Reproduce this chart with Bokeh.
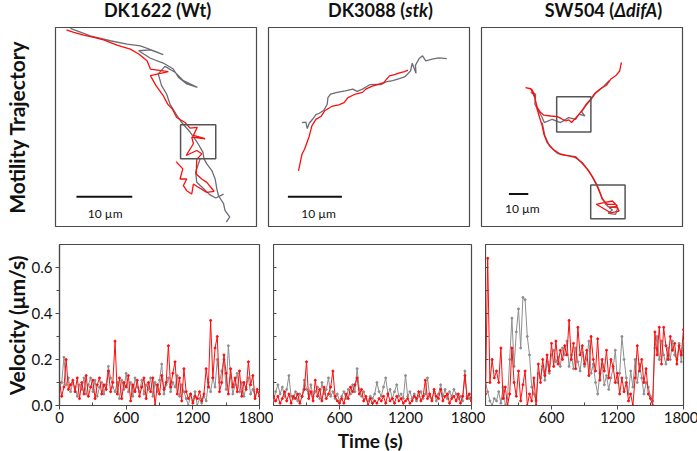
from bokeh.plotting import figure
from bokeh.layouts import column, row
from bokeh.models import Range1d, FixedTicker, Div, Spacer, PrintfTickFormatter
from bokeh.embed import file_html
from bokeh.resources import INLINE
from bokeh.core.properties import value

# ---------------- data ----------------
TITLES = ["DK1622 (Wt)", "DK3088 (<i>stk</i>)", "SW504 (<i>&Delta;difA</i>)"]
Y_TRAJ_LABEL = "Motility Trajectory"
Y_VEL_LABEL = "Velocity (\u03bcm/s)"
X_VEL_LABEL = "Time  (s)"
SCALE_TEXT = "10 \u00b5m"

TIME = list(range(0, 1801, 20))  # s, sampling grid
X_TICKS = [0, 600, 1200, 1800]
X_TICKS_INNER = [600, 1200, 1800]
X_MINOR = [300, 900, 1500]
Y_TICKS = [0.0, 0.2, 0.4, 0.6]
Y_MINOR = [0.1, 0.3, 0.5]
Y_ALL = [0.1, 0.2, 0.3, 0.4, 0.5, 0.6]

WT_RED_V = [0.10, 0.04, 0.08, 0.20, 0.07, 0.09, 0.11, 0.06, 0.12, 0.03,
            0.10, 0.05, 0.13, 0.04, 0.08, 0.11, 0.03, 0.09, 0.12, 0.05,
            0.09, 0.07, 0.15, 0.06, 0.10, 0.28, 0.05, 0.12, 0.03, 0.10,
            0.08, 0.13, 0.02, 0.09, 0.06, 0.11, 0.04, 0.08, 0.12, 0.03,
            0.10, 0.06, 0.12, 0.00, 0.09, 0.05, 0.13, 0.07, 0.10, 0.26,
            0.08, 0.14, 0.19, 0.05, 0.12, 0.02, 0.16, 0.06, 0.03, 0.05,
            0.01, 0.04, 0.03, 0.06, 0.02, 0.05, 0.16, 0.08, 0.37, 0.12,
            0.25, 0.30, 0.06, 0.10, 0.22, 0.14, 0.05, 0.16, 0.08, 0.12,
            0.06, 0.15, 0.04, 0.10, 0.07, 0.19, 0.09, 0.13, 0.03, 0.07,
            0.04]
WT_GRAY_V = [0.08, 0.10, 0.21, 0.09, 0.12, 0.06, 0.10, 0.08, 0.04, 0.09,
             0.07, 0.12, 0.05, 0.09, 0.12, 0.06, 0.11, 0.04, 0.08, 0.10,
             0.05, 0.09, 0.17, 0.12, 0.08, 0.06, 0.10, 0.03, 0.11, 0.07,
             0.14, 0.06, 0.10, 0.04, 0.12, 0.08, 0.06, 0.11, 0.05, 0.09,
             0.07, 0.12, 0.04, 0.10, 0.06, 0.11, 0.18, 0.05, 0.09, 0.12,
             0.06, 0.10, 0.08, 0.13, 0.04, 0.09, 0.06, 0.03, 0.00, 0.05,
             0.02, 0.06, 0.00, 0.03, 0.01, 0.04, 0.02, 0.10, 0.06, 0.12,
             0.08, 0.20, 0.10, 0.15, 0.20, 0.07, 0.26, 0.12, 0.05, 0.09,
             0.14, 0.06, 0.10, 0.04, 0.08, 0.12, 0.05, 0.07, 0.04, 0.06,
             0.05]
STK_RED_V = [0.04, 0.02, 0.04, 0.01, 0.03, 0.06, 0.02, 0.05, 0.01, 0.04,
             0.03, 0.05, 0.01, 0.04, 0.07, 0.19, 0.03, 0.06, 0.02, 0.11,
             0.04, 0.07, 0.02, 0.08, 0.03, 0.05, 0.08, 0.15, 0.04, 0.02,
             0.01, 0.03, 0.01, 0.05, 0.03, 0.08, 0.06, 0.09, 0.12, 0.05,
             0.07, 0.02, 0.04, 0.00, 0.03, 0.01, 0.02, 0.01, 0.03, 0.02,
             0.04, 0.01, 0.05, 0.02, 0.03, 0.01, 0.04, 0.02, 0.03, 0.01,
             0.02, 0.03, 0.01, 0.02, 0.04, 0.03, 0.06, 0.02, 0.04, 0.11,
             0.03, 0.05, 0.02, 0.07, 0.04, 0.03, 0.07, 0.02, 0.04, 0.05,
             0.01, 0.03, 0.04, 0.02, 0.05, 0.01, 0.04, 0.13, 0.03, 0.05,
             0.02]
STK_GRAY_V = [0.02, 0.06, 0.09, 0.05, 0.08, 0.04, 0.07, 0.13, 0.04, 0.03,
              0.06, 0.02, 0.05, 0.04, 0.11, 0.07, 0.05, 0.09, 0.04, 0.06,
              0.08, 0.03, 0.10, 0.05, 0.07, 0.12, 0.04, 0.06, 0.03, 0.05,
              0.02, 0.04, 0.06, 0.03, 0.07, 0.05, 0.09, 0.06, 0.16, 0.07,
              0.04, 0.06, 0.03, 0.02, 0.04, 0.03, 0.05, 0.10, 0.06, 0.04,
              0.08, 0.12, 0.05, 0.07, 0.03, 0.06, 0.09, 0.04, 0.05, 0.03,
              0.13, 0.04, 0.06, 0.03, 0.05, 0.02, 0.04, 0.06, 0.03, 0.05,
              0.12, 0.04, 0.03, 0.06, 0.02, 0.05, 0.09, 0.04, 0.07, 0.03,
              0.06, 0.04, 0.07, 0.05, 0.03, 0.04, 0.02, 0.15, 0.04, 0.03,
              0.02]
DIF_RED_V = [0.05, 0.64, 0.10, 0.20, 0.12, 0.15, 0.10, 0.25, 0.03, 0.08,
             0.00, 0.05, 0.25, 0.10, 0.04, 0.15, 0.02, 0.09, 0.15, 0.00,
             0.05, 0.02, 0.12, 0.00, 0.18, 0.10, 0.20, 0.13, 0.22, 0.15,
             0.27, 0.17, 0.28, 0.18, 0.24, 0.20, 0.26, 0.22, 0.37, 0.20,
             0.27, 0.16, 0.34, 0.22, 0.26, 0.18, 0.24, 0.13, 0.30, 0.20,
             0.15, 0.29, 0.11, 0.20, 0.15, 0.24, 0.12, 0.20, 0.17, 0.10,
             0.14, 0.05, 0.12, 0.06, 0.10, 0.02, 0.05, 0.00, 0.12, 0.26,
             0.15, 0.20, 0.10, 0.16, 0.05, 0.03, 0.00, 0.32, 0.22, 0.34,
             0.18, 0.34, 0.26, 0.20, 0.30, 0.24, 0.27, 0.18, 0.26, 0.22,
             0.33]
DIF_GRAY_V = [0.10, 0.06, 0.02, 0.00, 0.03, 0.02, 0.06, 0.01, 0.08, 0.00,
              0.03, 0.20, 0.38, 0.17, 0.32, 0.42, 0.25, 0.47, 0.46, 0.30,
              0.22, 0.08, 0.05, 0.02, 0.14, 0.12, 0.17, 0.11, 0.19, 0.14,
              0.22, 0.24, 0.19, 0.21, 0.17, 0.25, 0.22, 0.28, 0.17, 0.22,
              0.16, 0.25, 0.19, 0.15, 0.23, 0.17, 0.20, 0.28, 0.14, 0.18,
              0.10, 0.05, 0.14, 0.18, 0.09, 0.13, 0.07, 0.12, 0.16, 0.24,
              0.10, 0.14, 0.30, 0.20, 0.12, 0.05, 0.15, 0.08, 0.20, 0.10,
              0.18, 0.12, 0.05, 0.10, 0.08, 0.04, 0.02, 0.25, 0.30, 0.20,
              0.28, 0.22, 0.18, 0.25, 0.20, 0.28, 0.22, 0.20, 0.27, 0.19,
              0.28]

# trajectories, positions in micrometres (image orientation: y grows downward)
WT_RED_X = [1.96, 3.27, 5.05, 6.84, 8.62, 11.0, 13.4, 14.9, 16.4, 17.0, 20.2, 17.0, 18.0, 19.3, 20.1,
            21.0, 21.7, 23.2, 24.1, 25.4, 24.7, 26.8, 24.4, 24.7, 23.4, 25.3, 26.2, 25.3, 25.2, 26.2,
            27.1, 28.4, 27.1, 25.3, 24.7, 24.4, 23.5, 22.9, 23.5, 22.3, 22.8, 21.6]
WT_RED_Y = [0.41, 0.89, 1.36, 1.78, 2.2, 3.15, 3.86, 4.75, 5.95, 7.43, 7.9, 8.6, 10.4, 12.2, 13.7,
            14.7, 16.1, 17.0, 18.0, 17.85, 19.3, 19.9, 19.6, 20.8, 22.9, 22.0, 22.6, 23.6, 26.2, 27.1,
            27.7, 29.3, 29.5, 28.4, 28.0, 29.8, 29.2, 28.3, 27.1, 27.1, 25.3, 24.0]
WT_GRAY_X = [[2.67, 6.24, 9.8, 12.8, 15.2, 17.6, 19.3, 17.0, 14.9, 17.0, 19.3, 21.1, 22.0, 23.5, 25.4,
              22.9, 21.4, 19.6, 18.4, 19.0, 19.9, 20.5, 21.6, 22.6, 24.1, 25.3, 26.4, 26.6, 27.1, 28.0,
              28.6, 28.9, 29.2, 30.1, 30.35, 31.2, 30.6],
             [25.9, 25.1, 25.3, 26.4, 27.6, 28.7, 30.1]]
WT_GRAY_Y = [[0.17, 1.48, 2.37, 2.97, 3.27, 4.16, 4.87, 4.0, 4.16, 5.5, 6.36, 7.43, 8.9, 10.1, 10.7,
              9.5, 8.0, 6.96, 8.3, 10.4, 11.9, 13.7, 15.5, 17.0, 18.7, 20.4, 22.3, 23.5, 24.4, 25.6,
              27.1, 28.9, 30.1, 31.5, 32.7, 33.9, 34.8],
             [23.5, 25.9, 27.7, 28.7, 29.9, 30.5, 29.8]]
WT_BOX = dict(left=[22.4], right=[28.7], top=[17.4], bottom=[23.5])
WT_BAR = dict(x0=[3.75], x1=[13.75], y=[30.3], tx=[8.9], ty=[33.3])
WT_EXTENT = (36.0, 35.6)

STK_RED_X = [5.56, 5.87, 6.18, 6.67, 7.11, 7.54, 8.03, 8.77, 9.76, 10.4, 11.7, 13.0, 14.0, 14.7, 16.1,
             17.4, 18.0, 19.1, 20.3, 21.3, 22.4, 23.3, 24.4, 25.2, 25.8]
STK_RED_Y = [26.5, 25.0, 23.5, 22.5, 21.3, 20.1, 18.2, 17.0, 16.4, 15.4, 14.6, 14.3, 13.9, 12.96, 12.3,
             12.0, 11.4, 10.9, 10.5, 10.2, 8.95, 8.7, 8.33, 8.15, 7.9]
STK_GRAY_X = [[6.18, 6.92, 7.17, 7.54, 8.15, 8.77, 9.39, 10.25, 10.87, 11.0, 11.5, 12.7, 14.2, 15.6, 16.4,
               17.4, 18.2, 18.8, 19.9, 20.9, 21.7, 23.0, 24.2, 25.3, 26.3, 26.6, 26.9, 27.3, 27.2, 27.9,
               28.5, 29.1, 30.3, 31.5, 33.0]]
STK_GRAY_Y = [[17.6, 17.5, 18.7, 17.7, 16.97, 16.1, 15.86, 15.3, 14.2, 12.96, 12.3, 12.0, 11.7, 11.4, 11.8,
               11.4, 10.9, 10.55, 10.5, 10.55, 10.06, 9.81, 9.44, 9.07, 8.02, 6.6, 7.4, 8.45, 6.97, 5.74,
               5.24, 6.17, 5.86, 5.6, 5.74]]
STK_BAR = dict(x0=[3.59], x1=[13.59], y=[31.3], tx=[9.27], ty=[34.4])
STK_EXTENT = (37.2, 36.8)

DIF_RED_X = [72.4, 71.5, 69.4, 66.8, 64.6, 61.7, 58.7, 56.5, 54.2, 52.2, 50.1, 48.4, 46.6, 45.2, 43.5,
             41.4, 39.2, 35.8, 32.3, 30.6, 28.8, 28.0, 27.1, 25.9, 22.8, 25.4, 27.6, 28.8, 30.05, 31.4,
             32.3, 34.0, 37.0, 40.9, 45.2, 48.7, 52.2, 54.8, 57.3, 59.4, 61.1, 62.5, 65.1, 69.4, 71.2,
             66.8, 62.5, 59.4, 63.4, 67.7, 70.3, 66.0]
DIF_RED_Y = [18.1, 22.5, 25.0, 26.8, 29.9, 31.6, 34.0, 37.1, 39.7, 42.7, 45.4, 47.2, 49.2, 47.8, 48.4,
             47.2, 46.1, 45.8, 45.4, 44.0, 41.4, 38.0, 34.0, 31.9, 31.1, 31.6, 36.3, 42.3, 46.6, 50.9,
             55.3, 59.6, 63.0, 65.6, 66.5, 67.4, 70.0, 73.4, 77.2, 81.2, 85.1, 88.9, 91.5, 91.5, 95.0,
             95.9, 93.3, 91.5, 90.7, 89.8, 92.4, 93.3]
DIF_GRAY_X = [[25.4, 28.0, 27.6, 31.4, 32.5, 36.6, 40.9, 43.2, 45.2, 48.7, 50.4, 53.5, 51.8, 53.9, 56.5,
               59.1, 62.5, 66.0],
              [31.4, 32.8, 35.2, 39.2, 43.5, 48.7, 52.5, 55.6, 58.2, 60.4, 62.2, 64.2, 67.7, 65.6, 69.4,
               70.5, 65.1]]
DIF_GRAY_Y = [[33.7, 34.5, 39.7, 46.6, 49.2, 47.5, 49.2, 47.8, 46.6, 47.5, 44.9, 45.8, 43.7, 40.6, 37.5,
               34.0, 31.1, 27.6],
              [49.2, 56.1, 61.3, 65.1, 66.2, 66.8, 70.8, 74.3, 78.6, 82.9, 87.6, 91.5, 94.5, 96.2, 96.7,
               93.3, 92.7]]
DIF_BOX = dict(left=[38.9, 56.5], right=[56.6, 74.3], top=[35.9, 81.5], bottom=[54.1, 99.0])
DIF_BAR = dict(x0=[14.2], x1=[24.2], y=[86.2], tx=[21.1], ty=[93.8])
DIF_EXTENT = (104.0, 103.0)

# ---------------- styling ----------------
FONT = "Lato"
RED = "#ff0d0d"
TRAJ_GRAY = "#6c6c76"
VEL_GRAY = "#8e8e8e"
FRAME = "#4a4a4a"
TXT = "#111111"


def traj_fig(extent, rx, ry, gx, gy, bar, box, left, right, ylabel=None):
    p = figure(frame_width=201, frame_height=199,
               x_range=Range1d(0, extent[0]), y_range=Range1d(extent[1], 0),
               output_backend="svg", toolbar_location=None,
               min_border_left=left, min_border_right=right,
               min_border_top=0, min_border_bottom=1)
    p.grid.visible = False
    p.xaxis.visible = False
    if ylabel:
        ya = p.yaxis[0]
        ya.ticker = FixedTicker(ticks=[], minor_ticks=[])
        ya.axis_label = ylabel
        ya.axis_label_text_font = FONT
        ya.axis_label_text_font_size = "21px"
        ya.axis_label_text_font_style = "bold"
        ya.axis_label_text_color = TXT
        ya.major_label_standoff = 0
        ya.major_tick_out = 0
        ya.major_tick_in = 0
        ya.major_tick_line_color = None
        ya.minor_tick_line_color = None
        ya.axis_line_color = None
        ya.axis_label_standoff = 27
    else:
        p.yaxis.visible = False
    p.outline_line_color = FRAME
    p.outline_line_width = 1.2
    p.multi_line(xs=gx, ys=gy, line_color=TRAJ_GRAY, line_width=1.3)
    p.line(rx, ry, line_color=RED, line_width=1.3)
    if box:
        p.quad(left=box["left"], right=box["right"], top=box["top"], bottom=box["bottom"],
               fill_color=None, line_color="#555555", line_width=1.5)
    p.segment(x0=bar["x0"], x1=bar["x1"], y0=bar["y"], y1=bar["y"], line_color=TXT, line_width=2)
    p.text(x=bar["tx"], y=bar["ty"], text=[SCALE_TEXT], text_font=value(FONT), text_font_size="12px",
           text_align="center", text_baseline="middle", text_color=TXT)
    return p


def vel_fig(gray, red, fw, left, right, first, xlabel=None):
    p = figure(frame_width=fw, frame_height=161,
               x_range=Range1d(0, 1800), y_range=Range1d(0, 0.7),
               output_backend="svg", toolbar_location=None,
               min_border_left=left, min_border_right=right,
               min_border_top=17, min_border_bottom=0)
    p.grid.visible = False
    p.outline_line_color = FRAME
    p.outline_line_width = 1.2
    p.line(TIME, gray, line_color=VEL_GRAY, line_width=1)
    p.scatter(TIME, gray, size=2, color=VEL_GRAY)
    p.line(TIME, red, line_color=RED, line_width=1)
    p.scatter(TIME, red, size=2, color=RED)

    xa = p.xaxis[0]
    xa.ticker = FixedTicker(ticks=X_TICKS if first else X_TICKS_INNER, minor_ticks=X_MINOR)
    xa.axis_line_color = FRAME
    xa.axis_line_width = 1.2
    xa.major_tick_line_color = FRAME
    xa.minor_tick_line_color = FRAME
    xa.major_tick_out = 4
    xa.major_tick_in = 0
    xa.minor_tick_out = 0
    xa.minor_tick_in = 3
    xa.major_label_text_font = FONT
    xa.major_label_text_font_size = "15px"
    xa.major_label_text_color = TXT
    xa.major_label_standoff = 2
    if xlabel:
        xa.axis_label = xlabel
        xa.axis_label_text_font = FONT
        xa.axis_label_text_font_size = "19px"
        xa.axis_label_text_font_style = "bold"
        xa.axis_label_text_color = TXT
        xa.axis_label_standoff = 3

    if first:
        ya = p.yaxis[0]
        ya.ticker = FixedTicker(ticks=Y_TICKS, minor_ticks=Y_MINOR)
        ya.axis_line_color = FRAME
        ya.axis_line_width = 1.2
        ya.major_tick_line_color = FRAME
        ya.minor_tick_line_color = FRAME
        ya.formatter = PrintfTickFormatter(format="%.1f")
        ya.major_tick_out = 4
        ya.major_tick_in = 0
        ya.minor_tick_out = 3
        ya.minor_tick_in = 0
        ya.major_label_text_font = FONT
        ya.major_label_text_font_size = "15px"
        ya.major_label_text_color = TXT
        ya.major_label_standoff = 3
        ya.axis_label = Y_VEL_LABEL
        ya.axis_label_text_font = FONT
        ya.axis_label_text_font_size = "21px"
        ya.axis_label_text_font_style = "bold"
        ya.axis_label_text_color = TXT
        ya.axis_label_standoff = 0
    else:
        p.yaxis.visible = False
        # short inward tick marks on the left frame edge
        p.segment(x0=[0] * len(Y_ALL), x1=[27] * len(Y_ALL), y0=Y_ALL, y1=Y_ALL,
                  line_color=FRAME, line_width=1)
    return p


def title_div(html):
    return Div(text=('<div style="width:201px;text-align:center;font-family:Lato;font-weight:bold;'
                     'font-size:18px;line-height:17px;color:#111111;margin-top:-6px;white-space:nowrap">'
                     + html + '</div>'),
               width=201, height=17)


a1 = traj_fig(WT_EXTENT, WT_RED_X, WT_RED_Y, WT_GRAY_X, WT_GRAY_Y, WT_BAR, WT_BOX, 52, 6, Y_TRAJ_LABEL)
a2 = traj_fig(STK_EXTENT, STK_RED_X, STK_RED_Y, STK_GRAY_X, STK_GRAY_Y, STK_BAR, None, 6, 6)
a3 = traj_fig(DIF_EXTENT, DIF_RED_X, DIF_RED_Y, DIF_GRAY_X, DIF_GRAY_Y, DIF_BAR, DIF_BOX, 6, 9)

b1 = vel_fig(WT_GRAY_V, WT_RED_V, 200, 49, 14, True)
b2 = vel_fig(STK_GRAY_V, STK_RED_V, 198, 0, 14, False, X_VEL_LABEL)
b3 = vel_fig(DIF_GRAY_V, DIF_RED_V, 198, 0, 15, False)

titles = row(Spacer(width=52, height=17), title_div(TITLES[0]), Spacer(width=12, height=17),
             title_div(TITLES[1]), Spacer(width=12, height=17), title_div(TITLES[2]),
             Spacer(width=9, height=17))
layout = column(titles, row(a1, a2, a3), row(b1, b2, b3))

open("out.html", "w").write(file_html(layout, INLINE))
